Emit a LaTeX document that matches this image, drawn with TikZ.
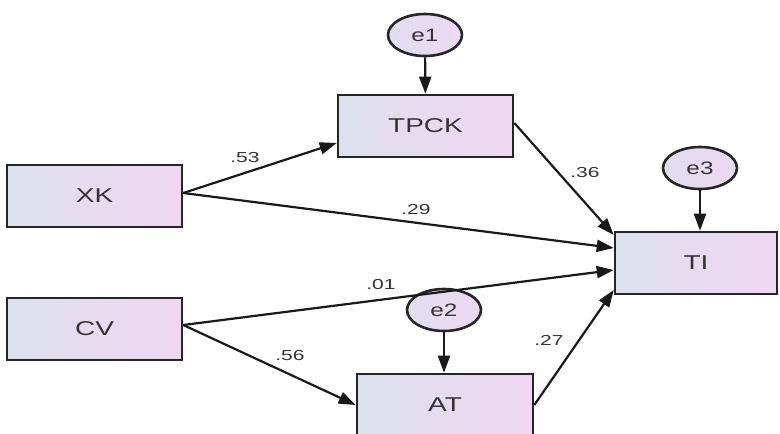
\documentclass[tikz,border=0pt]{standalone}
\usepackage{fontspec}
\setmainfont{Liberation Sans}
\usepackage{graphicx}
\usetikzlibrary{shapes.geometric,arrows.meta}
\definecolor{txt}{HTML}{333333}
\definecolor{boxl}{HTML}{DCE1EE}
\definecolor{boxr}{HTML}{F0D6F2}
\definecolor{errl}{HTML}{E0DEF0}
\definecolor{errr}{HTML}{EDD8F2}
\newcommand{\wide}[2]{\scalebox{#1}[1]{#2}}
\begin{document}
\begin{tikzpicture}[x=1pt,y=-1pt,
  var/.style={draw=black!85,line width=2.6pt,left color=boxl,right color=boxr,
    minimum width=175pt,minimum height=62pt,inner sep=0pt,
    font=\fontsize{20}{21}\selectfont,text=txt},
  err/.style={ellipse,draw=black!85,line width=2.6pt,left color=errl,right color=errr,
    minimum width=74pt,minimum height=42pt,inner sep=0pt,
    font=\fontsize{18}{19}\selectfont,text=txt},
  coef/.style={font=\fontsize{14.5}{15}\selectfont,text=txt,inner sep=0pt},
  path/.style={draw=black!90,line width=2.2pt,-{Triangle[length=17pt,width=12pt]}}]
\useasboundingbox (0,0) rectangle (780,434);
% observed variables
\node[var] (tpck) at (425.5,126) {\wide{1.4}{TPCK}};
\node[var] (xk) at (94.5,196) {\wide{1.4}{XK}};
\node[var] (cv) at (94.5,329) {\wide{1.4}{CV}};
\node[var,minimum width=162pt] (ti) at (696,263) {\wide{1.4}{TI}};
\node[var,minimum width=176pt] (at) at (445,405) {\wide{1.4}{AT}};
% error terms
\node[err] (e1) at (425,35) {\wide{1.35}{e1}};
\node[err] (e3) at (700,168) {\wide{1.35}{e3}};
\node[err] (e2) at (444,310) {\wide{1.35}{e2}};
% paths
\draw[path] (e1) -- (tpck);
\draw[path] (e3) -- (e3 |- ti.north);
\draw[path] (e2) -- (e2 |- at.north);
\draw[path] ([yshift=3pt]xk.east) -- ([yshift=-17pt]tpck.west);
\draw[path] ([yshift=3pt]xk.east) -- ([yshift=15pt]ti.west);
\draw[path] ([yshift=4pt]cv.east) -- ([yshift=-7pt]ti.west);
\draw[path] ([yshift=4pt]cv.east) -- (at.west);
\draw[path] ([yshift=3pt]tpck.east) -- ([yshift=28pt]ti.west);
\draw[path] (at.east) -- ([yshift=-27pt]ti.west);
% coefficients
\node[coef] (c53) at (245,158) {\wide{1.45}{.53}};
\node[coef] (c29) at (416,210) {\wide{1.45}{.29}};
\node[coef] (c36) at (585,173) {\wide{1.45}{.36}};
\node[coef] (c01) at (381,285) {\wide{1.45}{.01}};
\node[coef] (c56) at (290,356) {\wide{1.45}{.56}};
\node[coef] (c27) at (549,340) {\wide{1.45}{.27}};
\end{tikzpicture}
\end{document}
